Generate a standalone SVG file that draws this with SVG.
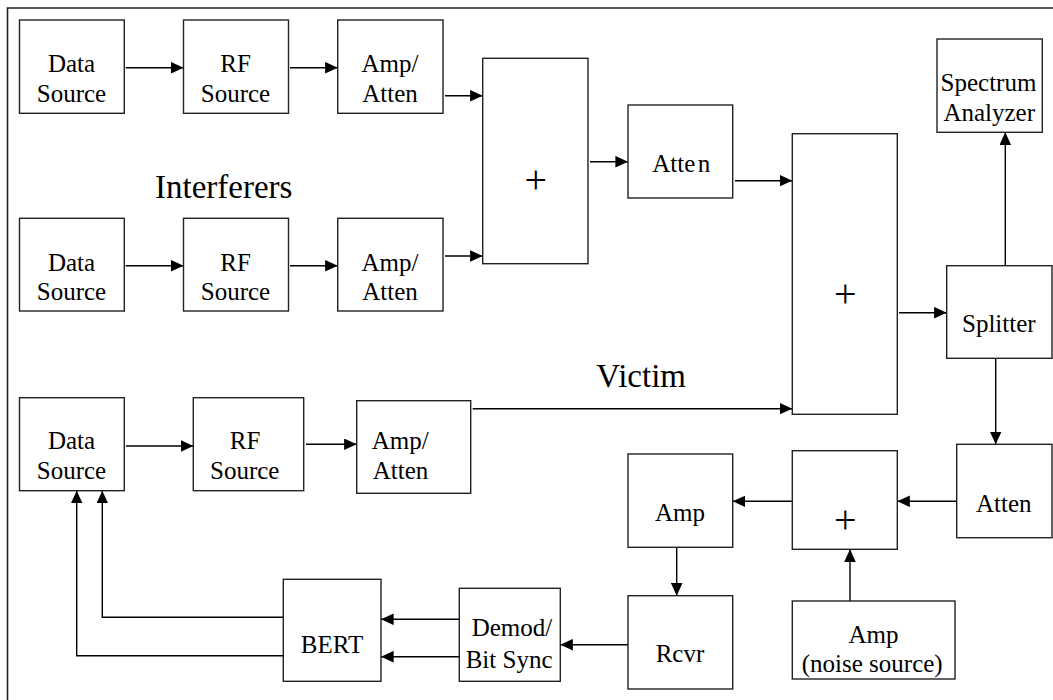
<svg xmlns="http://www.w3.org/2000/svg" width="1053" height="700" viewBox="0 0 1053 700">
<defs>
<style>
.box{fill:#fff;stroke:#222;stroke-width:1.4}
.t{font-family:"Liberation Serif","Times New Roman",serif;font-size:25px;fill:#000;text-anchor:middle}
.s{text-anchor:start}
.big{font-family:"Liberation Serif","Times New Roman",serif;font-size:33px;fill:#000}
.plus{font-family:"Liberation Serif","Times New Roman",serif;font-size:40px;fill:#000;text-anchor:middle}
.c{fill:none;stroke:#000;stroke-width:1.4;marker-end:url(#ah)}
</style>
<marker id="ah" markerWidth="13" markerHeight="12" refX="12.6" refY="5.8" orient="auto" markerUnits="userSpaceOnUse"><path d="M0,0 L12.6,5.8 L0,11.6 z" fill="#000"/></marker>
</defs>
<rect width="1053" height="700" fill="#fff"/>
<path d="M7.5,700 V8 H1053" fill="none" stroke="#222" stroke-width="1.6"/>
<text class="big" x="155" y="198.3">Interferers</text>
<text class="big" x="596.3" y="387.3">Victim</text>
<g id="connectors">
<path class="c" d="M125.7,67.7 H183.5"/>
<path class="c" d="M290,67.7 H337.7"/>
<path class="c" d="M445,95.7 H482.7"/>
<path class="c" d="M125.7,265.7 H183.5"/>
<path class="c" d="M290,265.7 H337.7"/>
<path class="c" d="M445,256 H482.7"/>
<path class="c" d="M590,161.7 H628"/>
<path class="c" d="M735,180.7 H792.3"/>
<path class="c" d="M899,312.7 H946.7"/>
<path class="c" d="M1005.3,265.7 V132.3"/>
<path class="c" d="M995.7,358.3 V444.3"/>
<path class="c" d="M956.7,501.3 H897.3"/>
<path class="c" d="M792.3,501.3 H732.7"/>
<path class="c" d="M676.7,547.3 V595.7"/>
<path class="c" d="M628,644.7 H560.3"/>
<path class="c" d="M850,601 V549.3"/>
<path class="c" d="M472.7,408.7 H792.3"/>
<path class="c" d="M126,446 H193.3"/>
<path class="c" d="M306,444.3 H356.7"/>
<path class="c" d="M459.3,619.3 H381"/>
<path class="c" d="M459.3,656.7 H381"/>
<path class="c" d="M283.3,617.3 H102.3 V490.7"/>
<path class="c" d="M283.3,655.7 H76.7 V490.7"/>
</g>
<g id="ds1"><rect class="box" x="19.5" y="20" width="104.8" height="93.3"/><text class="t" x="71.5" y="72.3">Data</text><text class="t" x="71.5" y="101.7">Source</text></g>
<g id="rf1"><rect class="box" x="183.5" y="20" width="105" height="93.3"/><text class="t" x="235.5" y="72.3">RF</text><text class="t" x="235.5" y="101.7">Source</text></g>
<g id="aa1"><rect class="box" x="337.7" y="20" width="105.3" height="93.3"/><text class="t" x="390" y="72">Amp/</text><text class="t" x="390" y="101.7">Atten</text></g>
<g id="ds2"><rect class="box" x="19.5" y="218.3" width="104.8" height="92.7"/><text class="t" x="71.5" y="270.5">Data</text><text class="t" x="71.5" y="300">Source</text></g>
<g id="rf2"><rect class="box" x="183.5" y="218.3" width="105" height="92.7"/><text class="t" x="235.5" y="270.5">RF</text><text class="t" x="235.5" y="300">Source</text></g>
<g id="aa2"><rect class="box" x="337.7" y="218.3" width="105.3" height="92.7"/><text class="t" x="390" y="270.5">Amp/</text><text class="t" x="390" y="300">Atten</text></g>
<g id="sum1"><rect class="box" x="482.7" y="58.3" width="105.3" height="205.4"/><text class="plus" x="535.7" y="193.3">+</text></g>
<g id="atten1"><rect class="box" x="628" y="105" width="104.7" height="93"/><text class="t s" x="652.3" y="172.3" word-spacing="-3.8">Atte n</text></g>
<g id="sum2"><rect class="box" x="792.3" y="133.7" width="105" height="280.6"/><text class="plus" x="845.3" y="306.7">+</text></g>
<g id="spectrum"><rect class="box" x="937" y="39" width="105.3" height="93.3"/><text class="t" x="988.5" y="90.7">Spectrum</text><text class="t" x="989.2" y="120.7">Analyzer</text></g>
<g id="splitter"><rect class="box" x="946.7" y="265.7" width="105.3" height="92.6"/><text class="t" x="998.8" y="331.7">Splitter</text></g>
<g id="atten2"><rect class="box" x="956.7" y="444.3" width="95.3" height="93.4"/><text class="t" x="1003.8" y="512.3">Atten</text></g>
<g id="sum3"><rect class="box" x="792.3" y="450.7" width="105" height="98.6"/><text class="plus" x="845.3" y="533.3">+</text></g>
<g id="amp"><rect class="box" x="628" y="454" width="104.7" height="93.3"/><text class="t" x="680" y="520.7">Amp</text></g>
<g id="rcvr"><rect class="box" x="628" y="595.7" width="104.7" height="93.3"/><text class="t" x="680" y="662.3">Rcvr</text></g>
<g id="noise"><rect class="box" x="792.3" y="601" width="162.7" height="78"/><text class="t" x="873.5" y="642.7">Amp</text><text class="t" x="872.2" y="671.7">(noise source)</text></g>
<g id="demod"><rect class="box" x="459.3" y="588.3" width="101" height="93"/><text class="t s" x="471.7" y="636">Demod/</text><text class="t s" x="465.7" y="668.3">Bit Sync</text></g>
<g id="bert"><rect class="box" x="283.3" y="579.3" width="97.7" height="102"/><text class="t" x="332" y="653.3">BERT</text></g>
<g id="ds3"><rect class="box" x="19.5" y="397.7" width="104.8" height="93"/><text class="t" x="71.5" y="449">Data</text><text class="t" x="71.5" y="479.3">Source</text></g>
<g id="rf3"><rect class="box" x="193.3" y="397.7" width="110.4" height="93"/><text class="t" x="245" y="449">RF</text><text class="t" x="244.7" y="479.3">Source</text></g>
<g id="aa3"><rect class="box" x="356.7" y="400.7" width="114" height="92.6"/><text class="t s" x="371.7" y="449">Amp/</text><text class="t s" x="372.7" y="479.3">Atten</text></g>
</svg>
